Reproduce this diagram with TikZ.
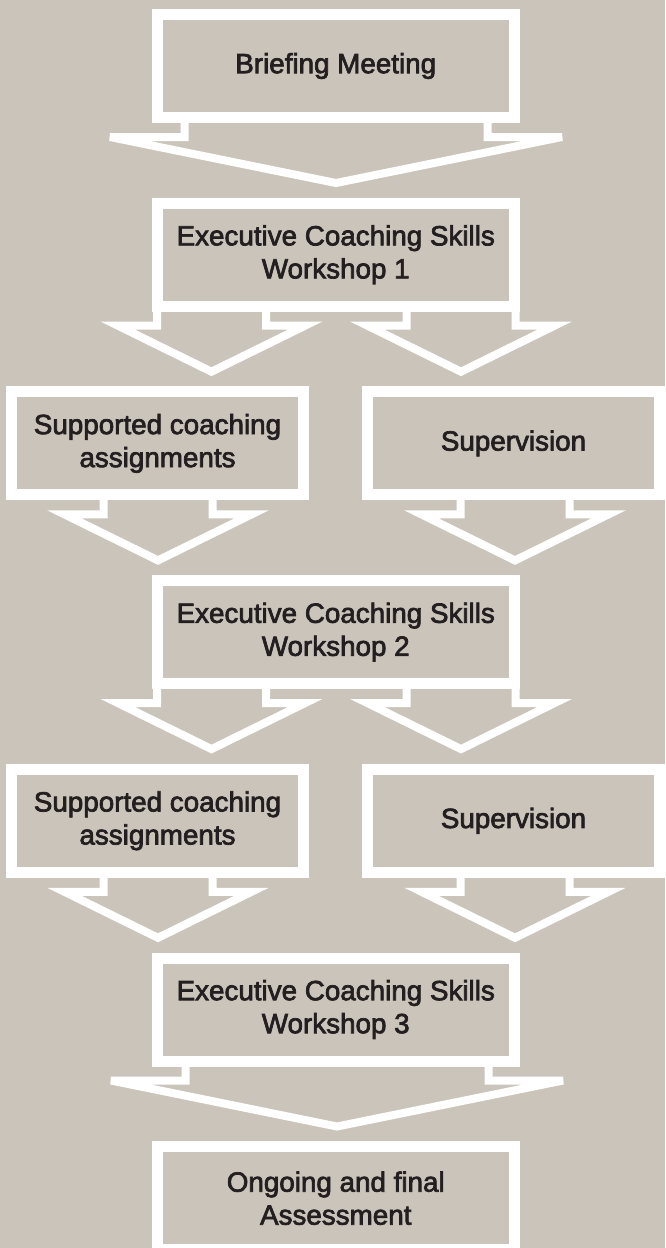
\documentclass[tikz,border=0pt]{standalone}
\usepackage{fontspec}
\newfontfamily\lblfont{Liberation Sans}[FakeBold=2.5]
\definecolor{bgc}{RGB}{202,196,187}
\definecolor{txt}{RGB}{35,31,32}
\begin{document}
\begin{tikzpicture}[x=1pt,y=-1pt,
  box/.style={draw=white, line width=11pt, rectangle, inner sep=0pt, align=center,
    text=txt, font=\lblfont\fontsize{27.8}{33}\selectfont, minimum height=103pt},
  cbox/.style={box, minimum width=356.5pt},
  sbox/.style={box, minimum width=292pt},
  blk/.style={draw=white, line width=8pt, line join=miter},
  smallarrow/.pic={\draw[blk, miter limit=10] (-54.5,0) -- (-54.5,19.5) -- (-93.5,19.5) -- (0,65.5) -- (93.5,19.5) -- (54.5,19.5) -- (54.5,0) -- cycle;},
  bigarrow/.pic={\draw[blk, miter limit=4] (-151.5,0) -- (-151.5,19.5) -- (-226,19.5) -- (0,65.5) -- (226,19.5) -- (151.5,19.5) -- (151.5,0) -- cycle;}
]
\useasboundingbox (0,0) rectangle (665,1248);
\clip (0,0) rectangle (665,1248);
\fill[bgc] (0,0) rectangle (665,1248);
% block arrows
\pic at (336,117.5) {bigarrow};
\pic at (211.5,306.2) {smallarrow};
\pic at (461,306.2) {smallarrow};
\pic at (158,494.9) {smallarrow};
\pic at (515,494.9) {smallarrow};
\pic at (211.5,683.6) {smallarrow};
\pic at (461,683.6) {smallarrow};
\pic at (158,872.3) {smallarrow};
\pic at (515,872.3) {smallarrow};
\pic at (337,1061) {bigarrow};
% boxes
\node[cbox] (brief) at (335.75,66) {Briefing Meeting};
\node[cbox] (w1) at (335.75,254.7) {Executive Coaching Skills\\Workshop 1};
\node[sbox] (s1l) at (157.5,443.4) {Supported coaching\\assignments};
\node[sbox] (s1r) at (513.5,443.4) {Supervision};
\node[cbox] (w2) at (335.75,632.1) {Executive Coaching Skills\\Workshop 2};
\node[sbox] (s2l) at (157.5,820.8) {Supported coaching\\assignments};
\node[sbox] (s2r) at (513.5,820.8) {Supervision};
\node[cbox] (w3) at (335.75,1009.5) {Executive Coaching Skills\\Workshop 3};
\node[cbox] (fin) at (335.75,1198.2) {Ongoing and final\\Assessment};
\end{tikzpicture}
\end{document}
